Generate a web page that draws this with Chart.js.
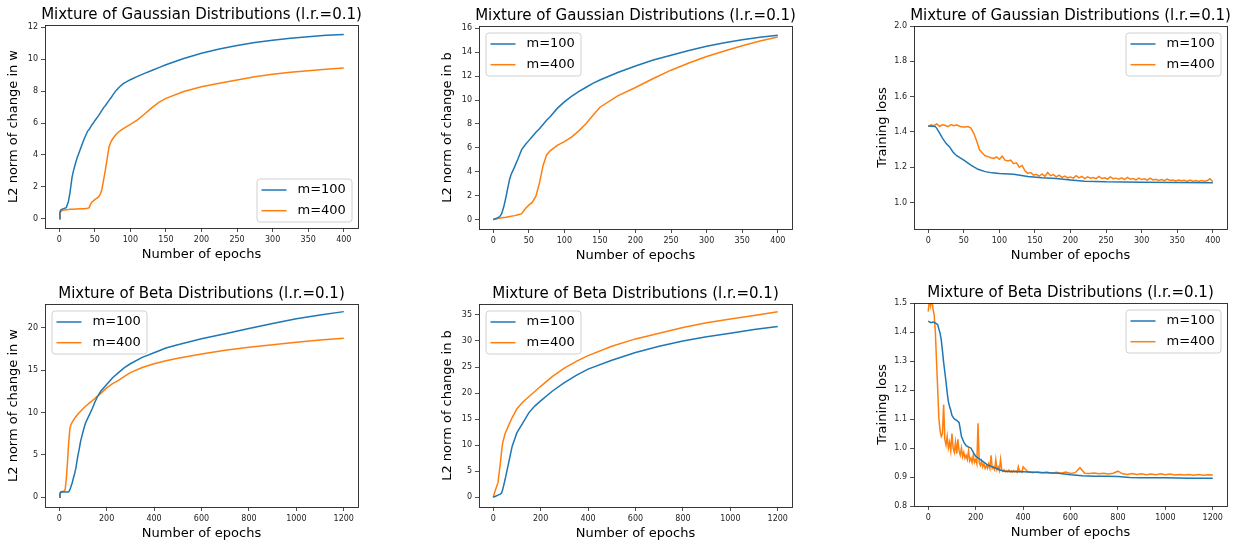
<!DOCTYPE html>
<html>
<head>
<meta charset="utf-8">
<script src="https://cdn.jsdelivr.net/npm/chart.js@4.4.1/dist/chart.umd.min.js"></script>
<style>
  html, body { margin: 0; padding: 0; background: #fff; overflow: hidden; width: 1236px; height: 544px; }
  canvas { position: absolute; }
</style>
</head>
<body>
<canvas id="gaussW" width="403" height="272"></canvas>
<canvas id="gaussB" width="403" height="272"></canvas>
<canvas id="gaussLoss" width="403" height="272"></canvas>
<canvas id="betaW" width="403" height="272"></canvas>
<canvas id="betaB" width="403" height="272"></canvas>
<canvas id="betaLoss" width="403" height="272"></canvas>
<script>
// ---- data ----
const xTicks400 = [0, 50, 100, 150, 200, 250, 300, 350, 400]
const xTicks1200 = [0, 200, 400, 600, 800, 1000, 1200]

// Mixture of Gaussian, change in w
const gaussW_epochs = [0,1,2,5,10,13,15,18,20,23,25,30,35,40,42,44,46,48,50,55,58,60,63,65,68,70,73,75,80,85,90,100,110,120,130,140,150,175,200,225,250,275,300,325,350,375,400]
const gaussW_m100 = [0,0.4,0.55,0.62,0.7,1.1,1.6,2.6,3.0,3.5,3.8,4.4,5.0,5.5,5.6,5.75,5.9,6.0,6.15,6.45,6.65,6.8,7.0,7.1,7.3,7.42,7.6,7.74,8.05,8.28,8.47,8.72,8.93,9.12,9.3,9.48,9.66,10.05,10.38,10.65,10.87,11.05,11.2,11.32,11.42,11.5,11.56]
const gaussW_m400 = [0,0.35,0.45,0.53,0.57,0.58,0.59,0.6,0.6,0.61,0.61,0.62,0.63,0.66,0.7,0.9,1.05,1.12,1.2,1.35,1.55,1.85,2.6,3.1,3.95,4.5,4.85,5.0,5.3,5.5,5.65,5.92,6.2,6.57,6.95,7.3,7.55,7.98,8.28,8.5,8.7,8.9,9.06,9.18,9.28,9.38,9.46]
const gaussW_yTicks = [0, 2, 4, 6, 8, 10, 12]

// Mixture of Gaussian, change in b
const gaussB_epochs = [0,5,8,10,12,15,18,20,23,25,30,35,40,45,50,55,60,65,70,75,80,90,100,110,120,130,140,150,175,200,225,250,275,300,325,350,375,400]
const gaussB_m100 = [0,0.1,0.2,0.3,0.5,1.1,1.9,2.5,3.35,3.75,4.4,5.1,5.85,6.25,6.6,6.95,7.3,7.6,7.95,8.3,8.6,9.3,9.85,10.3,10.7,11.05,11.4,11.68,12.3,12.85,13.35,13.75,14.15,14.5,14.8,15.05,15.25,15.42]
const gaussB_m400 = [0,0.06,0.1,0.12,0.14,0.17,0.19,0.21,0.24,0.26,0.32,0.4,0.48,0.9,1.2,1.45,1.95,3.05,4.5,5.4,5.75,6.2,6.52,6.9,7.4,8.0,8.7,9.4,10.35,11.05,11.8,12.5,13.1,13.65,14.1,14.55,14.95,15.28]
const gaussB_yTicks = [0, 2, 4, 6, 8, 10, 12, 14, 16]

// Mixture of Gaussian, training loss
const gaussLoss_epochs100 = [0,5,10,12,15,20,25,30,35,40,50,60,70,80,90,100,120,140,160,180,200,220,250,300,350,400]
const gaussLoss_m100 = [1.433,1.432,1.43,1.42,1.40,1.365,1.335,1.315,1.285,1.265,1.24,1.212,1.188,1.175,1.168,1.164,1.16,1.147,1.14,1.136,1.128,1.121,1.117,1.115,1.113,1.112]
const gaussLoss_epochs400 = [0,4,8,12,16,20,24,28,32,36,40,44,48,52,56,60,64,68,72,76,80,84,88,92,96,100,104,108,112,116,120,124,128,132,136,140,144,148,152,156,160,164,168,172,176,180,184,188,192,196,200,204,208,212,216,220,224,228,232,236,240,244,248,252,256,260,264,268,272,276,280,284,288,292,296,300,304,308,312,316,320,324,328,332,336,340,344,348,352,356,360,364,368,372,376,380,384,388,392,396,400]
const gaussLoss_m400 = [1.430,1.440,1.435,1.445,1.432,1.440,1.436,1.430,1.442,1.435,1.440,1.432,1.428,1.428,1.430,1.422,1.392,1.350,1.300,1.280,1.265,1.260,1.254,1.250,1.258,1.245,1.262,1.240,1.235,1.240,1.220,1.225,1.200,1.210,1.180,1.165,1.170,1.155,1.160,1.150,1.162,1.148,1.170,1.152,1.158,1.145,1.155,1.142,1.150,1.140,1.145,1.138,1.152,1.140,1.148,1.135,1.145,1.138,1.142,1.135,1.148,1.136,1.140,1.133,1.145,1.135,1.138,1.132,1.140,1.130,1.142,1.132,1.136,1.128,1.138,1.130,1.134,1.127,1.138,1.128,1.132,1.125,1.130,1.124,1.133,1.125,1.128,1.122,1.128,1.123,1.126,1.120,1.127,1.121,1.124,1.119,1.125,1.120,1.123,1.135,1.118]
const gaussLoss_yTicks = [1.0, 1.2, 1.4, 1.6, 1.8, 2.0]

// Mixture of Beta, change in w
const betaW_epochs = [0,3,7,15,20,25,30,35,40,45,50,55,60,65,70,75,80,85,90,100,110,120,130,140,150,160,175,200,225,250,275,300,350,400,450,500,600,700,800,900,1000,1100,1200]
const betaW_m100 = [0,0.4,0.6,0.62,0.62,0.62,0.62,0.63,0.65,0.9,1.3,1.7,2.3,2.8,3.4,4.3,5.1,5.8,6.6,7.7,8.7,9.3,9.9,10.5,11.2,11.8,12.5,13.3,14.1,14.7,15.3,15.75,16.5,17.05,17.6,18.0,18.7,19.3,19.9,20.5,21.05,21.5,21.9]
const betaW_m400 = [0,0.5,0.65,0.7,0.7,0.9,2.2,4.2,6.5,8.1,8.6,8.85,9.1,9.3,9.5,9.68,9.85,10.0,10.15,10.45,10.7,10.95,11.2,11.4,11.65,11.9,12.25,12.9,13.4,13.8,14.25,14.7,15.3,15.75,16.1,16.4,16.9,17.35,17.7,18.0,18.3,18.55,18.75]
const betaW_yTicks = [0, 5, 10, 15, 20]

// Mixture of Beta, change in b
const betaB_epochs = [0,10,20,30,35,40,50,65,80,100,125,150,175,200,250,300,350,400,500,600,700,800,900,1000,1100,1200]
const betaB_m100 = [0,0.2,0.4,0.6,0.8,1.5,3.4,6.6,9.8,12.4,14.3,16.2,17.5,18.5,20.4,22.0,23.4,24.6,26.3,27.8,29.0,30.0,30.8,31.5,32.2,32.8]
const betaB_m400 = [0,1.5,2.8,6.5,8.7,10.5,12.2,13.8,15.3,17.0,18.3,19.3,20.3,21.3,23.2,24.8,26.1,27.2,29.0,30.4,31.5,32.6,33.5,34.2,34.9,35.6]
const betaB_yTicks = [0, 5, 10, 15, 20, 25, 30, 35]

// Mixture of Beta, training loss
const betaLoss_epochs100 = [0,10,20,30,40,45,50,55,60,65,70,75,80,85,90,95,100,110,120,130,135,140,150,160,170,180,190,200,220,250,280,300,320,350,400,450,500,550,600,650,700,750,800,850,900,1000,1100,1200]
const betaLoss_m100 = [1.438,1.432,1.434,1.431,1.425,1.41,1.396,1.373,1.335,1.295,1.262,1.228,1.19,1.16,1.143,1.13,1.112,1.1,1.095,1.088,1.065,1.04,1.02,1.008,1.003,1.0,0.985,0.972,0.96,0.942,0.932,0.925,0.92,0.919,0.918,0.916,0.915,0.913,0.908,0.904,0.903,0.903,0.902,0.898,0.897,0.897,0.896,0.896]
const betaLoss_epochs400 = [0,5,10,15,20,25,30,35,40,45,50,55,60,65,70,75,80,85,90,95,100,105,110,115,120,125,130,135,140,145,150,155,160,165,170,175,180,185,190,195,200,205,210,215,220,225,230,235,240,245,250,255,260,265,270,275,280,285,290,295,300,305,310,315,320,325,330,335,340,345,350,355,360,365,370,375,380,385,390,395,400,420,440,460,480,500,520,540,560,580,600,620,640,660,680,700,720,740,760,780,800,820,840,860,880,900,920,940,960,980,1000,1020,1040,1060,1080,1100,1120,1140,1160,1180,1200]
const betaLoss_m400 = [1.47,1.51,1.49,1.52,1.48,1.46,1.40,1.30,1.20,1.10,1.06,1.04,1.05,1.15,1.03,1.01,1.04,1.00,1.02,0.99,1.05,1.00,0.985,1.02,0.98,1.03,0.99,0.975,1.0,0.97,0.985,0.965,0.975,0.96,0.99,0.955,0.965,0.95,0.975,0.95,0.96,0.945,1.085,0.95,0.94,0.955,0.935,0.945,0.93,0.94,0.93,0.945,0.93,0.975,0.93,0.935,0.925,0.96,0.925,0.935,0.922,0.96,0.925,0.92,0.925,0.918,0.922,0.918,0.924,0.917,0.921,0.917,0.922,0.918,0.921,0.916,0.935,0.918,0.92,0.916,0.935,0.918,0.915,0.918,0.914,0.917,0.913,0.916,0.913,0.917,0.912,0.915,0.932,0.913,0.912,0.914,0.911,0.913,0.910,0.913,0.920,0.911,0.909,0.912,0.909,0.911,0.908,0.910,0.908,0.911,0.908,0.910,0.907,0.909,0.907,0.909,0.906,0.909,0.906,0.908,0.907]
const betaLoss_yTicks = [0.8, 0.9, 1.0, 1.1, 1.2, 1.3, 1.4, 1.5]

// ---- drawing ----
const BLUE = '#1f77b4'
const ORANGE = '#ff7f0e'
const FONT = "'DejaVu Sans', sans-serif"

function points(xs, ys) {
  return xs.map((x, i) => ({ x: x, y: ys[i] }))
}

function line(label, color, xs, ys) {
  return {
    label: label, data: points(xs, ys), borderColor: color, backgroundColor: color,
    borderWidth: 1.5, pointRadius: 0, tension: 0, fill: false
  }
}

// matplotlib style box around the axes
const framePlugin = {
  id: 'frame',
  afterDatasetsDraw(chart) {
    const a = chart.chartArea, ctx = chart.ctx
    ctx.save()
    ctx.strokeStyle = '#222'
    ctx.lineWidth = 0.9
    ctx.strokeRect(Math.round(a.left) + 0.5, Math.round(a.top) + 0.5,
      Math.round(a.right - a.left), Math.round(a.bottom - a.top))
    ctx.restore()
  }
}

// legend box drawn inside the axes like matplotlib does
const insideLegend = {
  id: 'insideLegend',
  afterDraw(chart, args, opts) {
    const a = chart.chartArea, ctx = chart.ctx
    const w = 95, h = 43, inset = 6.5
    const x = opts.corner.includes('r') ? a.right - inset - w : a.left + inset
    const y = opts.corner.includes('b') ? a.bottom - inset - h : a.top + inset
    ctx.save()
    ctx.beginPath()
    ctx.roundRect(x + 0.5, y + 0.5, w, h, 3)
    ctx.fillStyle = 'rgba(255,255,255,0.8)'
    ctx.fill()
    ctx.strokeStyle = '#d0d0d0'
    ctx.lineWidth = 1
    ctx.stroke()
    chart.data.datasets.forEach((ds, i) => {
      const cy = y + 11.5 + i * 20.7
      ctx.strokeStyle = ds.borderColor
      ctx.lineWidth = 1.5
      ctx.beginPath()
      ctx.moveTo(x + 5, cy)
      ctx.lineTo(x + 30, cy)
      ctx.stroke()
      ctx.fillStyle = '#000'
      ctx.font = '13px ' + FONT
      ctx.textBaseline = 'middle'
      ctx.fillText(ds.label, x + 41, cy)
    })
    ctx.restore()
  }
}

const tickGrid = { display: true, drawOnChartArea: false, drawTicks: true, tickLength: 4, color: '#222', lineWidth: 0.8 }

function makeChart(id, pos, title, yLabel, datasets, xTicks, xRange, yTicks, yRange, decimals, corner) {
  const el = document.getElementById(id)
  el.style.left = pos[0] + 'px'
  el.style.top = pos[1] + 'px'
  return new Chart(el, {
    type: 'line',
    data: { datasets: datasets },
    plugins: [framePlugin, insideLegend],
    options: {
      responsive: false,
      animation: false,
      layout: { padding: 0 },
      plugins: {
        legend: { display: false },
        tooltip: { enabled: false },
        title: {
          display: true, text: title, color: '#000',
          font: { family: FONT, size: 15, weight: 'normal', lineHeight: 1.2 },
          padding: { top: 6.5, bottom: 0.5 }
        },
        insideLegend: { corner: corner }
      },
      scales: {
        x: {
          type: 'linear', min: xRange[0], max: xRange[1],
          afterBuildTicks: s => { s.ticks = xTicks.map(v => ({ value: v })) },
          afterFit: s => { s.height = 44 },
          grid: tickGrid,
          border: { display: false },
          ticks: { color: '#222', font: { family: FONT, size: 8 }, padding: 3, maxRotation: 0, autoSkip: false, callback: v => String(v) },
          title: { display: true, text: 'Number of epochs', color: '#000', font: { family: FONT, size: 13, lineHeight: 1.2 }, padding: { top: 0, bottom: 10 } }
        },
        y: {
          type: 'linear', min: yRange[0], max: yRange[1],
          afterBuildTicks: s => { s.ticks = yTicks.map(v => ({ value: v })) },
          afterFit: s => { s.width = 45 },
          grid: tickGrid,
          border: { display: false },
          ticks: { color: '#222', font: { family: FONT, size: 8 }, padding: 3, autoSkip: false, callback: v => v.toFixed(decimals) },
          title: { display: true, text: yLabel, color: '#000', font: { family: FONT, size: 13, lineHeight: 1.2 }, padding: { top: 5.5, bottom: 0 } }
        },
        // empty right-hand margin so the title centres over the axes
        pad: {
          type: 'linear', position: 'right', display: true,
          afterFit: s => { s.width = 45 },
          grid: { display: false }, border: { display: false },
          ticks: { display: false }, title: { display: false }
        }
      }
    }
  })
}

const gaussTitle = 'Mixture of Gaussian Distributions (l.r.=0.1)'
const betaTitle = 'Mixture of Beta Distributions (l.r.=0.1)'

makeChart('gaussW', [0, 0], gaussTitle, 'L2 norm of change in w', [
  line('m=100', BLUE, gaussW_epochs, gaussW_m100),
  line('m=400', ORANGE, gaussW_epochs, gaussW_m400)
], xTicks400, [-20, 420], gaussW_yTicks, [-0.58, 12.15], 0, 'br')

makeChart('gaussB', [434, 1], gaussTitle, 'L2 norm of change in b', [
  line('m=100', BLUE, gaussB_epochs, gaussB_m100),
  line('m=400', ORANGE, gaussB_epochs, gaussB_m400)
], xTicks400, [-20, 420], gaussB_yTicks, [-0.8, 16.2], 0, 'tl')

makeChart('gaussLoss', [869, 1], gaussTitle, 'Training loss', [
  line('m=100', BLUE, gaussLoss_epochs100, gaussLoss_m100),
  line('m=400', ORANGE, gaussLoss_epochs400, gaussLoss_m400)
], xTicks400, [-20, 420], gaussLoss_yTicks, [0.85, 2.0], 1, 'tr')

makeChart('betaW', [0, 279], betaTitle, 'L2 norm of change in w', [
  line('m=100', BLUE, betaW_epochs, betaW_m100),
  line('m=400', ORANGE, betaW_epochs, betaW_m400)
], xTicks1200, [-60, 1260], betaW_yTicks, [-1.15, 22.8], 0, 'tl')

makeChart('betaB', [434, 279], betaTitle, 'L2 norm of change in b', [
  line('m=100', BLUE, betaB_epochs, betaB_m100),
  line('m=400', ORANGE, betaB_epochs, betaB_m400)
], xTicks1200, [-60, 1260], betaB_yTicks, [-1.87, 37.1], 0, 'tl')

makeChart('betaLoss', [869, 278], betaTitle, 'Training loss', [
  line('m=100', BLUE, betaLoss_epochs100, betaLoss_m100),
  line('m=400', ORANGE, betaLoss_epochs400, betaLoss_m400)
], xTicks1200, [-60, 1260], betaLoss_yTicks, [0.8, 1.5], 1, 'tr')
</script>
</body>
</html>
